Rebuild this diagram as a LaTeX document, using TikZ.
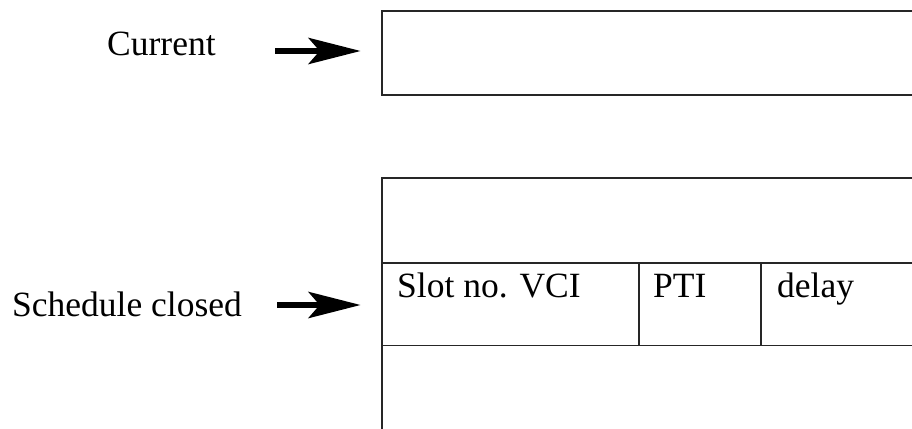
\documentclass[tikz,border=0pt]{standalone}
\usepackage{fontspec}
\setmainfont{Liberation Serif}
\usetikzlibrary{arrows.meta}
\begin{document}
\begin{tikzpicture}[x=1pt,y=-1pt,
  boxline/.style={draw=black!85, line width=1.9pt},
  lbl/.style={font=\fontsize{35.5}{40}\selectfont, inner sep=0pt, anchor=base west},
  bigarrow/.style={line width=6.5pt, -{Stealth[length=52pt,width=26pt,inset=11pt]}, shorten >=20pt}]
\clip (0,0) rectangle (912,428);
\fill[white] (0,0) rectangle (912,428);
% top box
\node[boxline, rectangle, minimum width=560pt, minimum height=84pt, anchor=north west, inner sep=0pt] (cur) at (380.7,10) {};
% lower box
\node[boxline, rectangle, minimum width=560pt, minimum height=270pt, anchor=north west, inner sep=0pt] (sched) at (380.7,177.3) {};
% row of cells
\node[boxline, rectangle, minimum width=257.6pt, minimum height=82.8pt, anchor=north west, inner sep=0pt] (slot) at (380.7,261.7) {};
\node[boxline, rectangle, minimum width=121.7pt, minimum height=82.8pt, anchor=north west, inner sep=0pt] (pti) at (638.3,261.7) {};
\node[boxline, rectangle, minimum width=300pt, minimum height=82.8pt, anchor=north west, inner sep=0pt] (delay) at (760,261.7) {};
% cell texts
\node[lbl] (tslot) at (397,297) {Slot no. VCI};
\node[lbl] (tpti) at (653,297) {PTI};
\node[lbl] (tdelay) at (777,297) {delay};
% labels
\node[lbl] (tcur) at (107,56) {Current};
\node[lbl] (tsched) at (12,316) {Schedule closed};
% arrows
\coordinate (a1) at (275,51);
\coordinate (a2) at (277,305);
\draw[bigarrow] (a1) -- (a1 -| cur.west);
\draw[bigarrow] (a2) -- (a2 -| sched.west);
\end{tikzpicture}
\end{document}
